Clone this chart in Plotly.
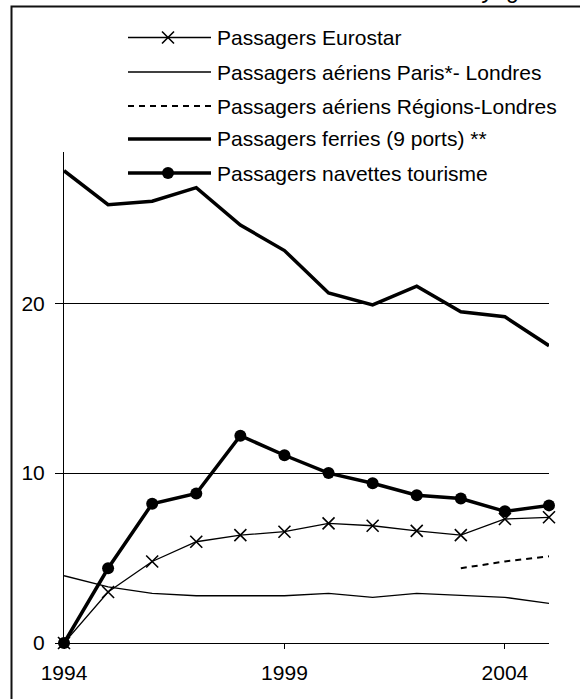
import plotly.graph_objects as go

years = list(range(1994, 2006))
eurostar = [0, 3.0, 4.8, 5.96, 6.35, 6.55, 7.04, 6.9, 6.6, 6.35, 7.3, 7.4]
air_paris = [3.96, 3.3, 2.92, 2.78, 2.78, 2.78, 2.92, 2.69, 2.92, 2.82, 2.69, 2.33]
air_regions = [None] * 9 + [4.4, 4.8, 5.1]
ferries = [27.8, 25.8, 26.0, 26.8, 24.6, 23.1, 20.6, 19.9, 21.0, 19.5, 19.2, 17.5]
navettes = [0, 4.4, 8.2, 8.8, 12.2, 11.05, 10.0, 9.4, 8.7, 8.5, 7.75, 8.1]

labels = [
    "Passagers Eurostar",
    "Passagers aériens Paris*- Londres",
    "Passagers aériens Régions-Londres",
    "Passagers ferries (9 ports) **",
    "Passagers navettes tourisme",
]
unit_text = "en milliers de voyageurs"
x_ticks = [1994, 1999, 2004]
y_ticks = [0, 10, 20]

W, H = 580, 699
L, R, T, B = 64, 549, 152, 643
FONT = "Liberation Sans, Arial, sans-serif"


def xp(px):
    return (px - L) / (R - L)


def yp(py):
    return (B - py) / (B - T)


fig = go.Figure()
fig.add_trace(go.Scatter(x=years, y=eurostar, mode="lines+markers", name=labels[0],
                         line=dict(color="black", width=1.3),
                         marker=dict(symbol="x-thin", size=12, line=dict(color="black", width=1.6)),
                         cliponaxis=False))
fig.add_trace(go.Scatter(x=years, y=air_paris, mode="lines", name=labels[1],
                         line=dict(color="black", width=1.3), cliponaxis=False))
fig.add_trace(go.Scatter(x=years, y=air_regions, mode="lines", name=labels[2],
                         line=dict(color="black", width=2, dash="6px,5px"), cliponaxis=False))
fig.add_trace(go.Scatter(x=years, y=ferries, mode="lines", name=labels[3],
                         line=dict(color="black", width=3.5), cliponaxis=False))
fig.add_trace(go.Scatter(x=years, y=navettes, mode="lines+markers", name=labels[4],
                         line=dict(color="black", width=3.5),
                         marker=dict(symbol="circle", size=12, color="black"),
                         cliponaxis=False))

shapes = []
annotations = []
# outer frame
shapes.append(dict(type="rect", xref="paper", yref="paper",
                   x0=xp(11.5), x1=xp(620), y0=yp(740), y1=yp(6.5),
                   line=dict(color="#111", width=2), fillcolor="rgba(0,0,0,0)", layer="below"))

# manual legend
rows = [37.5, 72, 106, 139, 173]
lx0, lx1, tx, mx = 128, 211, 215, 168
styles = [
    dict(color="black", width=1.3),
    dict(color="black", width=1.3),
    dict(color="black", width=2, dash="6px,5px"),
    dict(color="black", width=3.5),
    dict(color="black", width=3.5),
]
for i, (lab, ry) in enumerate(zip(labels, rows)):
    shapes.append(dict(type="line", xref="paper", yref="paper",
                       x0=xp(lx0), x1=xp(lx1), y0=yp(ry), y1=yp(ry), line=styles[i]))
    annotations.append(dict(text=lab, xref="paper", yref="paper", x=xp(tx), y=yp(ry),
                            xanchor="left", yanchor="middle", showarrow=False,
                            font=dict(family=FONT, size=21, color="black")))
# legend marker: x
r = 6
path = (f"M{xp(mx - r)},{yp(rows[0] - r)} L{xp(mx + r)},{yp(rows[0] + r)} "
        f"M{xp(mx - r)},{yp(rows[0] + r)} L{xp(mx + r)},{yp(rows[0] - r)}")
shapes.append(dict(type="path", xref="paper", yref="paper", path=path,
                   line=dict(color="black", width=1.6)))
# legend marker: circle
rc = 6
shapes.append(dict(type="circle", xref="paper", yref="paper",
                   x0=xp(mx - rc), x1=xp(mx + rc), y0=yp(rows[4] + rc), y1=yp(rows[4] - rc),
                   fillcolor="black", line=dict(color="black", width=0)))

annotations.append(dict(text="<i>" + unit_text + "</i>", xref="paper", yref="paper",
                        x=xp(568), y=yp(-10), xanchor="right", yanchor="middle",
                        showarrow=False, font=dict(family=FONT, size=23, color="black")))

fig.update_layout(
    width=W, height=H,
    margin=dict(l=L, r=W - R, t=T, b=H - B, pad=0),
    paper_bgcolor="white", plot_bgcolor="white",
    showlegend=False,
    font=dict(family=FONT, size=21, color="black"),
    shapes=shapes, annotations=annotations,
    xaxis=dict(range=[1994, 2005], tickvals=x_ticks, ticktext=[str(v) for v in x_ticks],
               showgrid=False, zeroline=False, showline=True, linecolor="black", linewidth=1,
               ticks="outside", ticklen=5, tickcolor="black", tickwidth=1,
               ticklabelstandoff=6,
               tickfont=dict(family=FONT, size=21, color="black")),
    yaxis=dict(range=[0, 28.9], tickvals=y_ticks, ticktext=[str(v) for v in y_ticks],
               showgrid=True, gridcolor="black", gridwidth=1, zeroline=False,
               showline=True, linecolor="black", linewidth=1,
               ticks="outside", ticklen=8, tickcolor="black", tickwidth=1,
               ticklabelstandoff=6,
               tickfont=dict(family=FONT, size=21, color="black")),
)

fig.write_html("out.html", config={"displayModeBar": False},
               post_script="document.body.style.margin='0';document.body.style.overflow='hidden';")
